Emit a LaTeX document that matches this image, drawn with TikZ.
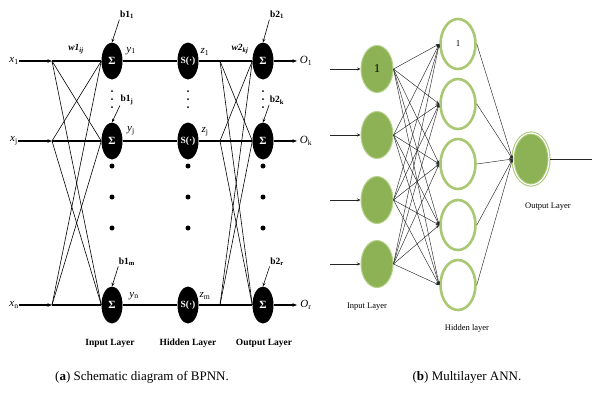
\documentclass[tikz,border=0pt]{standalone}
\usepackage{fontspec}
\setmainfont{Liberation Serif}
\usetikzlibrary{shapes.geometric,arrows.meta}
\definecolor{leafgreen}{HTML}{8DB255}
\definecolor{palegreen}{HTML}{B5D28A}
\definecolor{ringgreen}{HTML}{A8C873}
\begin{document}
\begin{tikzpicture}[x=1pt,y=-1pt,
  sumnode/.style={ellipse,fill=black,minimum width=21pt,minimum height=37pt,inner sep=0pt,text=white,font=\bfseries\fontsize{11}{12}\selectfont},
  snode/.style={sumnode,font=\bfseries\fontsize{9.5}{10}\selectfont},
  heavy/.style={line width=1.5pt},
  light/.style={line width=0.6pt},
  lbl/.style={inner sep=0.5pt,font=\fontsize{11}{12}\selectfont},
  blbl/.style={inner sep=0.5pt,font=\bfseries\fontsize{9.5}{10}\selectfont},
  tipa/.style={-{Stealth[length=4.5pt,width=3.5pt]}},
  tipb/.style={-{Stealth[length=3.5pt,width=3pt]}},
  innode/.style={ellipse,fill=leafgreen,draw=palegreen,line width=1pt,minimum width=32pt,minimum height=47pt,inner sep=0pt,font=\fontsize{12}{13}\selectfont},
  hidnode/.style={ellipse,fill=white,draw=ringgreen,line width=2.6pt,minimum width=35pt,minimum height=50pt,inner sep=0pt,font=\fontsize{9}{10}\selectfont},
  outnode/.style={ellipse,fill=leafgreen,draw=ringgreen,double=white,double distance=1.2pt,line width=1pt,minimum width=36pt,minimum height=52pt,inner sep=0pt},
  edge/.style={line width=0.45pt,draw=black!85},
  smalllbl/.style={inner sep=0pt,font=\fontsize{8.5}{9}\selectfont},
  bigdot/.style={circle,fill=black,inner sep=0pt,minimum size=5pt},
  smalldot/.style={circle,fill=black,inner sep=0pt,minimum size=2pt}
]
\useasboundingbox (0,0) rectangle (592,392);

% ---------------- (a) BPNN ----------------
\node[lbl] (x1) at (14,61) {\textit{x}\textsubscript{1}};
\node[lbl] (xj) at (14,141) {\textit{x}\textsubscript{j}};
\node[lbl] (xn) at (14,305) {\textit{x}\textsubscript{n}};
\coordinate (p1) at (52,61);
\coordinate (pj) at (52,141);
\coordinate (pn) at (52,305);
\node[sumnode] (s1) at (112,61) {Σ};
\node[sumnode] (sj) at (112,141) {Σ};
\node[sumnode] (sn) at (112,305) {Σ};
\node[snode] (h1) at (188,61) {S(·)};
\node[snode] (hj) at (188,141) {S(·)};
\node[snode] (hm) at (188,305) {S(·)};
\coordinate (q1) at (220,61);
\coordinate (qj) at (220,141);
\coordinate (qm) at (220,305);
\node[sumnode] (r1) at (263,61) {Σ};
\node[sumnode] (rk) at (263,141) {Σ};
\node[sumnode] (rr) at (263,305) {Σ};
\coordinate (e1) at (297,61);
\coordinate (ek) at (297,141);
\coordinate (er) at (297,305);

\foreach \a/\b/\c/\d/\e/\f/\g in {x1/p1/s1/h1/q1/r1/e1, xj/pj/sj/hj/qj/rk/ek, xn/pn/sn/hm/qm/rr/er}{
  \draw[heavy,tipa] (\a.east) -- (\b);
  \draw[heavy] (\b) -- (\c.west);
  \draw[heavy] (\c.east) -- (\d.west);
  \draw[heavy] (\d.east) -- (\e);
  \draw[heavy] (\e) -- (\f.west);
  \draw[heavy,tipa] (\f.east) -- (\g);
}
\foreach \a in {p1,pj,pn}{\foreach \b in {s1,sj,sn}{\draw[light] (\a) -- (\b.west);}}
\foreach \a in {q1,qj,qm}{\foreach \b in {r1,rk,rr}{\draw[light] (\a) -- (\b.west);}}

\node[lbl] (o1) at (306,61) {\textit{O}\textsubscript{1}};
\node[lbl] (ok) at (306,141) {\textit{O}\textsubscript{k}};
\node[lbl] (or) at (306,305) {\textit{O}\textsubscript{r}};

\node[lbl] (y1) at (131,51) {\textit{y}\textsubscript{1}};
\node[lbl] (yj) at (131,131) {\textit{y}\textsubscript{j}};
\node[lbl] (yn) at (134,296) {\textit{y}\textsubscript{n}};
\node[lbl] (z1) at (205,52) {\textit{z}\textsubscript{1}};
\node[lbl] (zj) at (205,132) {\textit{z}\textsubscript{j}};
\node[lbl] (zm) at (205,296) {\textit{z}\textsubscript{m}};
\node[blbl] (w1) at (76,49) {\textit{w1}\textsubscript{\textit{ij}}};
\node[blbl] (w2) at (240,49) {\textit{w2}\textsubscript{\textit{kj}}};

\node[blbl] (b11) at (127,15) {b1\textsubscript{1}};
\node[blbl] (b1j) at (127,100) {b1\textsubscript{j}};
\node[blbl] (b1m) at (127,262) {b1\textsubscript{m}};
\node[blbl] (b21) at (277,15) {b2\textsubscript{1}};
\node[blbl] (b2k) at (277,100) {b2\textsubscript{k}};
\node[blbl] (b2r) at (277,262) {b2\textsubscript{r}};
\draw[light,tipb] (b11.south west) -- (s1.north);
\draw[light,tipb] (b1j.south west) -- (sj.north);
\draw[light,tipb] (b1m.south west) -- (sn.north);
\draw[light,tipb] (b21.south west) -- (r1.north);
\draw[light,tipb] (b2k.south west) -- (rk.north);
\draw[light,tipb] (b2r.south west) -- (rr.north);

\foreach \x/\n in {112/s,188/h,263/r}{
  \foreach \y/\m in {91/a,99/b,107/c}{\node[smalldot] (sd\n\m) at (\x,\y) {};}
  \foreach \y/\m in {166/a,197/b,228/c}{\node[bigdot] (bd\n\m) at (\x,\y) {};}
}

\node[blbl] (lin) at (110,343) {Input Layer};
\node[blbl] (lhid) at (188,343) {Hidden Layer};
\node[blbl] (lout) at (264,343) {Output Layer};

% ---------------- (b) ANN ----------------
\node[innode] (i1) at (377,69) {1};
\node[innode] (i2) at (377,135) {};
\node[innode] (i3) at (377,200) {};
\node[innode] (i4) at (377,264) {};
\node[hidnode] (n1) at (458,44) {1};
\node[hidnode] (n2) at (458,104) {};
\node[hidnode] (n3) at (458,164) {};
\node[hidnode] (n4) at (458,225) {};
\node[hidnode] (n5) at (458,285) {};
\node[outnode] (out) at (531,159) {};

\foreach \i/\y in {1/69,2/135,3/200,4/264}{
  \coordinate (ia\i) at (330,\y);
  \draw[edge,tipb] (ia\i) -- (i\i.west);
}
\foreach \i in {1,2,3,4}{\foreach \h in {1,2,3,4,5}{\draw[edge,tipb] (i\i.east) -- (n\h.west);}}
\foreach \h in {1,2,3,4,5}{\draw[edge,tipb] (n\h.east) -- (out.west);}
\coordinate (oe) at (592,159);
\draw[edge] (out.east) -- (oe);

\node[smalllbl] (rin) at (367,307) {Input Layer};
\node[smalllbl] (rhid) at (467,328) {Hidden layer};
\node[smalllbl] (rout) at (548,207) {Output Layer};

% ---------------- captions ----------------
\node[inner sep=0pt,font=\fontsize{13}{15}\selectfont] (capa) at (142,377) {(\textbf{a}) Schematic diagram of BPNN.};
\node[inner sep=0pt,font=\fontsize{13}{15}\selectfont] (capb) at (467,377) {(\textbf{b}) Multilayer ANN.};
\end{tikzpicture}
\end{document}
